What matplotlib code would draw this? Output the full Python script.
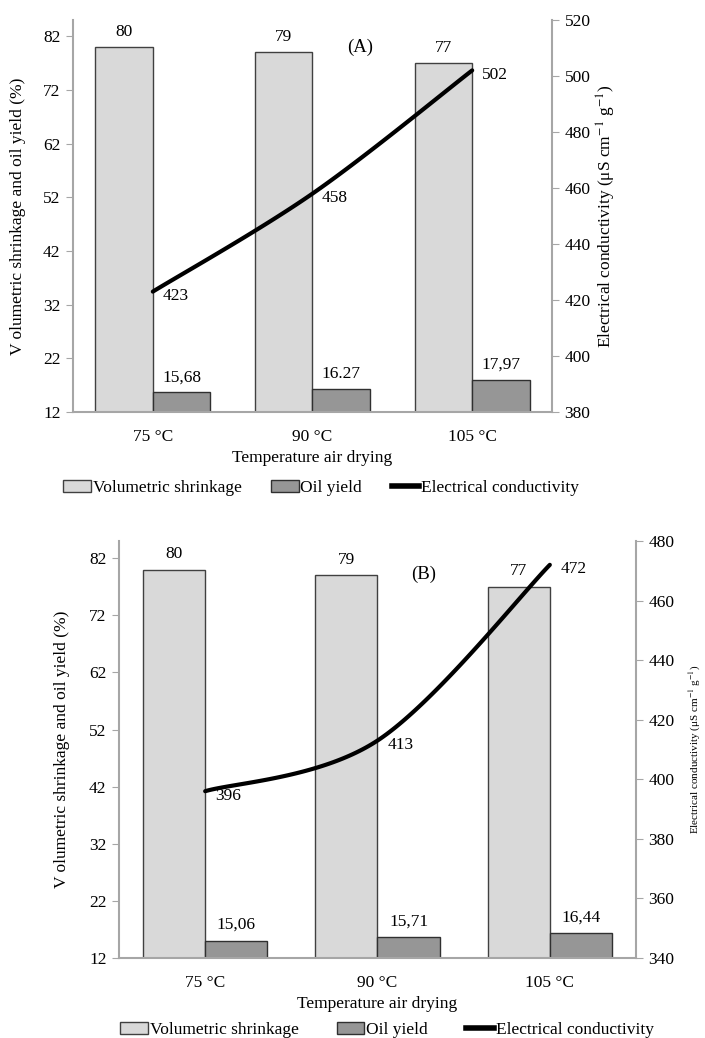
import numpy as np
import matplotlib
matplotlib.use("Agg")
import matplotlib.pyplot as plt
from matplotlib.patches import Patch
from matplotlib.lines import Line2D

plt.rcParams["font.family"] = ["Liberation Serif", "DejaVu Serif"]
plt.rcParams["mathtext.fontset"] = "stix"

categories = ["75 °C", "90 °C", "105 °C"]

shrink_a = [80, 79, 77]
oil_a = [15.68, 16.27, 17.97]
oil_a_labels = ["15,68", "16.27", "17,97"]
cond_a = [423, 458, 502]

shrink_b = [80, 79, 77]
oil_b = [15.06, 15.71, 16.44]
oil_b_labels = ["15,06", "15,71", "16,44"]
cond_b = [396, 413, 472]

W, H = 705, 1038
FS = 12.5
LIGHT = "#d9d9d9"
DARK = "#969696"
SPINE = "#a6a6a6"


def smooth(xs, ys, n=60):
    # excel-like smoothed line (bezier with 1/6 tangents)
    pts = np.column_stack([xs, ys]).astype(float)
    out = []
    for i in range(len(pts) - 1):
        p0 = pts[i - 1] if i > 0 else pts[i]
        p1 = pts[i]
        p2 = pts[i + 1]
        p3 = pts[i + 2] if i + 2 < len(pts) else pts[i + 1]
        c1 = p1 + (p2 - p0) / 6
        c2 = p2 - (p3 - p1) / 6
        t = np.linspace(0, 1, n)[:, None]
        seg = ((1 - t) ** 3) * p1 + 3 * ((1 - t) ** 2) * t * c1 + 3 * (1 - t) * t ** 2 * c2 + t ** 3 * p2
        out.append(seg)
    seg = np.vstack(out)
    return seg[:, 0], seg[:, 1]


def px_axes(fig, x0, y0, x1, y1):
    return fig.add_axes([x0 / W, 1 - y1 / H, (x1 - x0) / W, (y1 - y0) / H])


def panel(fig, box, shrink, oil, oil_labels, cond, ylim2, tag, tag_xy,
          ylab_x, ylab2_x, ylab2_fs, leg_y, leg_x, colsp):
    ax = px_axes(fig, *box)
    ax2 = ax.twinx()
    ax.set_zorder(ax2.get_zorder() + 1)
    ax.patch.set_visible(False)

    x = np.arange(len(categories))
    w = 0.36
    ax.bar(x - w / 2, shrink, w, color=LIGHT, edgecolor="#404040", linewidth=1.0)
    ax.bar(x + w / 2, [v - 12 for v in oil], w, bottom=12, color=DARK,
           edgecolor="#303030", linewidth=1.0)

    for i, v in enumerate(shrink):
        ax.text(x[i] - w / 2, v + 1.3, str(v), ha="center", va="bottom", fontsize=FS)
    for i, v in enumerate(oil):
        ax.text(x[i] + w / 2, v + 1.3, oil_labels[i], ha="center", va="bottom", fontsize=FS)

    ax.set_xlim(-0.5, len(categories) - 0.5)
    ax.set_ylim(12, 85)
    ax.set_yticks(np.arange(12, 83, 10))
    ax.set_xticks(x)
    ax.set_xticklabels(categories, fontsize=FS)
    ax.tick_params(axis="x", length=0, pad=12)
    ax.tick_params(axis="y", labelsize=FS, length=5, color=SPINE, pad=4)
    ax.set_xlabel("Temperature air drying", fontsize=FS, labelpad=4)

    # line on the right axis
    sx, sy = smooth(x, cond)
    ax2.set_ylim(*ylim2)
    ax2.set_yticks(np.arange(ylim2[0], ylim2[1] + 1, 20))
    ax2.tick_params(axis="y", labelsize=FS, length=5, color=SPINE, pad=4)
    ax.plot(sx, sy, color="black", linewidth=3.0, solid_capstyle="round",
            transform=ax2.transData, zorder=5)
    for i, v in enumerate(cond):
        ax.text(x[i] + 0.06, v - 1.5, str(v), ha="left", va="center", fontsize=FS,
                transform=ax2.transData, zorder=6)

    for a in (ax, ax2):
        for s in a.spines.values():
            s.set_visible(False)
    ax.spines["left"].set_visible(True)
    ax.spines["bottom"].set_visible(True)
    ax2.spines["right"].set_visible(True)
    for s in (ax.spines["left"], ax.spines["bottom"], ax2.spines["right"]):
        s.set_color(SPINE)
        s.set_linewidth(1.5)

    ax.text(tag_xy[0], tag_xy[1], tag, transform=ax.transAxes, fontsize=FS + 1,
            ha="center", va="center")

    cy = (box[1] + box[3]) / 2
    fig.text(ylab_x / W, 1 - cy / H, "V olumetric shrinkage and oil yield (%)",
             rotation=90, ha="center", va="center", fontsize=FS)
    fig.text(ylab2_x / W, 1 - cy / H,
             r"Electrical conductivity (μS cm$^{-1}$ g$^{-1}$)",
             rotation=90, ha="center", va="center", fontsize=ylab2_fs)

    handles = [
        Patch(facecolor=LIGHT, edgecolor="#404040", linewidth=1.0),
        Patch(facecolor=DARK, edgecolor="#303030", linewidth=1.0),
        Line2D([0], [0], color="black", linewidth=4),
    ]
    labels = ["Volumetric shrinkage", "Oil yield", "Electrical conductivity"]
    fig.legend(handles, labels, loc="center left", ncol=3, frameon=False,
               bbox_to_anchor=(leg_x / W, 1 - leg_y / H), fontsize=FS,
               handlelength=1.6, handleheight=0.7, handletextpad=0.1,
               columnspacing=colsp, borderpad=0, borderaxespad=0)


fig = plt.figure(figsize=(W / 100, H / 100), dpi=100)

panel(fig, (73, 20, 552, 412), shrink_a, oil_a, oil_a_labels, cond_a,
      (380, 520), "(A)", (0.6, 0.93), 18, 606, FS, 488, 63, 1.7)
panel(fig, (119, 541, 636, 958), shrink_b, oil_b, oil_b_labels, cond_b,
      (340, 480), "(B)", (0.59, 0.92), 62, 695, 8, 1030, 120, 2.2)

fig.savefig("out.png", dpi=100)
